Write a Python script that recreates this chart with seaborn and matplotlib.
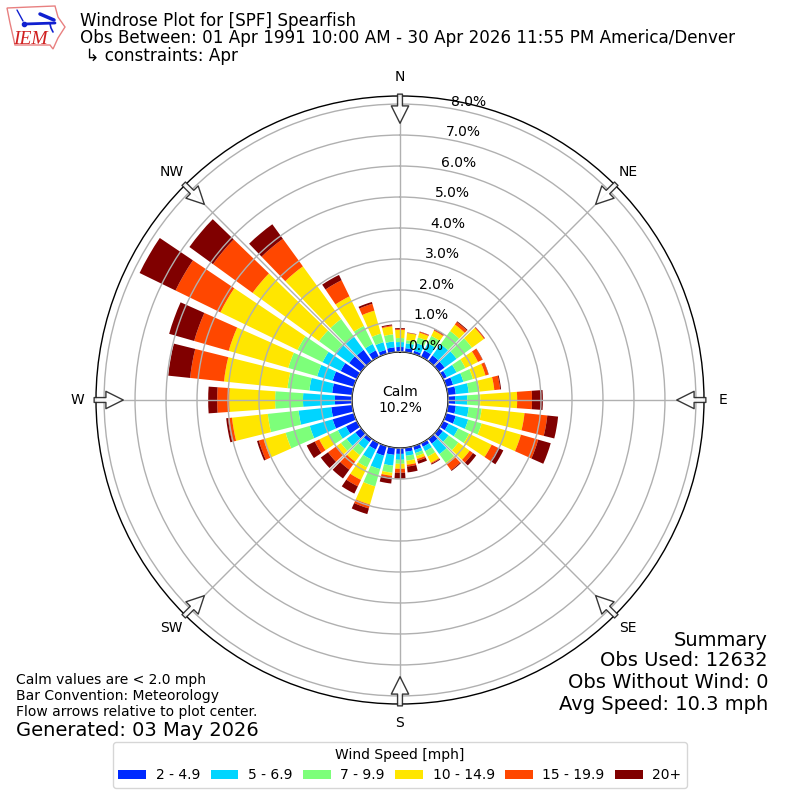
import numpy as np
import pandas as pd
import matplotlib
matplotlib.use("Agg")
import matplotlib.pyplot as plt
import seaborn as sns
from matplotlib.patches import Polygon

directions = list(range(0, 360, 10))
speed_labels = ["2 - 4.9", "5 - 6.9", "7 - 9.9", "10 - 14.9", "15 - 19.9", "20+"]
speed_colors = ["#0029ff", "#00d5ff", "#7dff7a", "#ffe600", "#ff4700", "#800000"]

speed_2_5 = [.16,.13,.10,.23,.23,.23,.13,.23,.26,.23,.26,.32,.19,.16,.19,.13,.13,.13,
             .19,.23,.32,.23,.13,.23,.39,.71,.68,.55,.65,.71,.58,.48,.45,.23,.13,.16]
speed_5_7 = [.16,.16,.26,.26,.45,.48,.35,.35,.42,.39,.42,.42,.35,.23,.42,.16,.10,.13,
             .19,.35,.45,.35,.26,.35,.29,.77,1.06,1.03,.74,.52,.65,.55,.52,.23,.26,.19]
speed_7_10 = [.13,.10,.19,.26,.52,.61,.32,.32,.35,.42,.42,.45,.39,.39,.35,.19,.10,.16,
              .13,.23,.58,.29,.26,.23,.32,.81,1.00,.90,.71,.97,.90,.65,.71,.65,.29,.23]
speed_10_15 = [.26,.23,.16,.19,.26,.48,.45,.42,.48,1.19,1.39,1.32,.81,.45,.06,.23,.10,.13,
               .16,.10,.61,.45,.26,.16,.35,.74,1.16,1.48,2.06,2.00,2.77,2.65,2.10,1.06,.77,.26]
speed_15_20 = [.03,.01,.03,.03,.10,.03,.16,.10,.19,.48,.74,.58,.23,.13,.23,.03,.06,.06,
               .13,.06,.13,.23,.32,.35,.16,.16,.13,.39,1.10,1.16,1.61,1.58,1.10,.58,.23,.03]
speed_20 = [.03,.01,.01,.03,.03,.01,.01,.01,.03,.35,.35,.42,.19,.13,.03,.03,.10,.19,
            .19,.19,.19,.26,.35,.29,.29,.06,.06,.29,.71,.84,1.29,.94,.58,.19,.06,.03]
speed_series = [speed_2_5, speed_5_7, speed_7_10, speed_10_15, speed_15_20, speed_20]

rings = [0, 1, 2, 3, 4, 5, 6, 7, 8]
compass_labels = ["N", "NE", "E", "SE", "S", "SW", "W", "NW"]
compass_angles = [0, 45, 90, 135, 180, 225, 270, 315]
summary_lines = ["Summary", "Obs Used: 12632", "Obs Without Wind: 0", "Avg Speed: 10.3 mph"]

sns.set_theme(style="whitegrid", rc={"axes.grid": True, "grid.color": "#b0b0b0", "grid.linewidth": 1.0,
                                     "axes.edgecolor": "black", "axes.linewidth": 1.0,
                                     "text.color": "black", "xtick.color": "black", "ytick.color": "black"})
plt.rcParams["font.family"] = ["DejaVu Sans"]

fig = plt.figure(figsize=(8, 8), dpi=100)
ax = fig.add_axes([96 / 800, 96 / 800, 608 / 800, 608 / 800], projection="polar")
ax.set_theta_zero_location("N")
ax.set_theta_direction(-1)

bottom = np.zeros(len(directions))
for label, color, values in zip(speed_labels, speed_colors, speed_series):
    frame = pd.DataFrame({"theta": np.deg2rad(directions), "pct": values})
    sns.barplot(data=frame, x="theta", y="pct", native_scale=True, width=0.8, color=color,
                saturation=1, errorbar=None, bottom=bottom, label=label, ax=ax, linewidth=0, zorder=2)
    bottom = bottom + np.array(values)

ax.set_xlabel("")
ax.set_ylabel("")
ax.set_thetalim(0, 2 * np.pi)
ax.set_rorigin(-1.55)
ax.set_rlim(0, 8.26)
ax.set_rticks(rings)
ax.set_yticklabels([f"{r:.1f}%" for r in rings], fontsize=10)
ax.set_rlabel_position(10)
ax.set_xticks(np.deg2rad(compass_angles))
ax.set_xticklabels(compass_labels, fontsize=10)
ax.tick_params(axis="x", pad=0.5)
ax.set_axisbelow(False)
ax.grid(True, color="#b0b0b0", linewidth=1.0)

for a in compass_angles:
    ax.annotate("", xy=(np.deg2rad(a), 7.38), xytext=(np.deg2rad(a), 8.32), annotation_clip=False,
                arrowprops=dict(arrowstyle="simple,head_length=1.25,head_width=1.25,tail_width=0.35",
                                mutation_scale=10, shrinkA=0, shrinkB=0, facecolor="white",
                                edgecolor="#222222", linewidth=1, alpha=0.9, clip_on=False))

ax.text(0.5, 0.5, "Calm\n10.2%", transform=ax.transAxes, ha="center", va="center", fontsize=10, color="black")

leg = fig.legend(*ax.get_legend_handles_labels(), title="Wind Speed [mph]", ncols=6, loc="center",
                 bbox_to_anchor=(400 / 800, 1 - 765 / 800), fontsize=10, title_fontsize=10, frameon=True,
                 handlelength=2.0, handletextpad=0.69, columnspacing=0.75)
if ax.get_legend():
    ax.get_legend().remove()

fig.text(80 / 800, 1 - 21 / 800, "Windrose Plot for [SPF] Spearfish", fontsize=12.05, va="center")
fig.text(80 / 800, 1 - 38 / 800, "Obs Between: 01 Apr 1991 10:00 AM - 30 Apr 2026 11:55 PM America/Denver", fontsize=12.05, va="center")
fig.text(80 / 800, 1 - 56 / 800, " ↳ constraints: Apr", fontsize=12.05, va="center")

for line, y in zip(summary_lines, [640, 661, 683, 705]):
    fig.text(768 / 800, 1 - y / 800, line, fontsize=14, ha="right", va="center")
for line, y in zip(["Calm values are < 2.0 mph", "Bar Convention: Meteorology", "Flow arrows relative to plot center."], [680, 696, 712]):
    fig.text(16 / 800, 1 - y / 800, line, fontsize=10, va="center")
fig.text(16 / 800, 1 - 730 / 800, "Generated: 03 May 2026", fontsize=14, va="center")

logo = fig.add_axes([0, 1 - 55 / 800, 70 / 800, 55 / 800])
logo.set_xlim(0, 70)
logo.set_ylim(55, 0)
logo.axis("off")
logo.add_patch(Polygon([(7, 8), (30, 7), (55, 6), (58, 17), (65, 27), (58, 38), (53, 49), (50, 45),
                        (15, 45), (10, 23)], closed=True, fill=False, edgecolor="#e88080", linewidth=1))
logo.plot([25, 55], [24, 23], color="#1020d0", linewidth=2)
logo.plot([50, 51, 53], [24, 28, 32], color="#1020d0", linewidth=1.2)
logo.plot([17, 23], [10, 21], color="#1020d0", linewidth=1)
logo.plot([40, 54], [14, 20], color="#1020d0", linewidth=2.5)
logo.plot([24], [24], "o", color="#1020d0", markersize=3)
logo.text(30, 39, "IEM", family="Liberation Serif", style="italic", color="#d02020", fontsize=14, ha="center", va="center")

fig.savefig("out.png", dpi=100, facecolor="white")
